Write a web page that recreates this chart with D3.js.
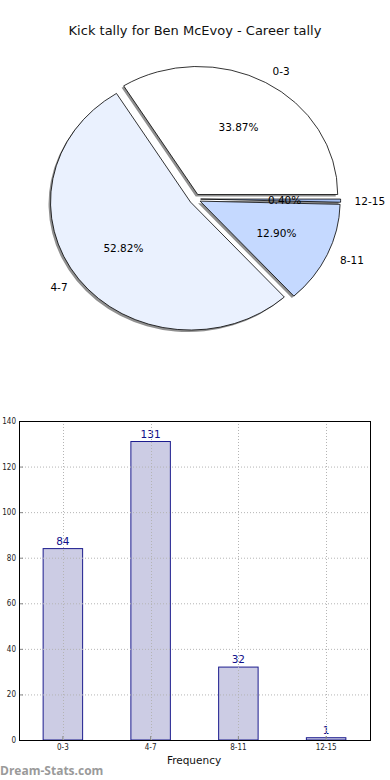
<!DOCTYPE html>
<html>
<head>
<meta charset="utf-8">
<script src="https://cdn.jsdelivr.net/npm/d3@7"></script>
<style>
  body { margin: 0; background: #fff; }
  svg { display: block; font-family: "DejaVu Sans", sans-serif; }
</style>
</head>
<body>
<script>
const categories = ["0-3", "4-7", "8-11", "12-15"];
const counts = [84, 131, 32, 1];
const pieColors = ["#ffffff", "#eaf1fe", "#c5d9ff", "#a3bdf0"];
const yTicks = [0, 20, 40, 60, 80, 100, 120, 140];

const W = 390, H = 780;
const svg = d3.select("body").append("svg")
  .attr("width", W)
  .attr("height", H);

// title
svg.append("text")
  .attr("x", 195)
  .attr("y", 35)
  .attr("text-anchor", "middle")
  .attr("font-size", "13px")
  .attr("fill", "#111")
  .text("Kick tally for Ben McEvoy - Career tally");

// ---- pie (matplotlib style, ellipse, exploded, shadowed)
const cx = 195, cy = 199, rx = 140, ry = 128;
const explode = 0.04;
const total = d3.sum(counts);

const pie = d3.pie().sort(null)
  .startAngle(Math.PI / 2)
  .endAngle(Math.PI / 2 - 2 * Math.PI);
const arcs = pie(counts);
const unitArc = d3.arc().innerRadius(0).outerRadius(1);

// point on unit circle for a d3 angle
const pt = (a, r) => [Math.sin(a) * r, -Math.cos(a) * r];

arcs.forEach(d => {
  d.mid = (d.startAngle + d.endAngle) / 2;
  const off = pt(d.mid, explode);
  d.ox = cx + off[0] * rx;
  d.oy = cy + off[1] * ry;
});

const pieG = svg.append("g");

// shadows first
pieG.selectAll("path.shadow")
  .data(arcs)
  .enter()
  .append("path")
  .attr("class", "shadow")
  .attr("d", unitArc)
  .attr("transform", d => `translate(${d.ox - 2},${d.oy + 2}) scale(${rx},${ry})`)
  .attr("fill", "#909090");

pieG.selectAll("path.wedge")
  .data(arcs)
  .enter()
  .append("path")
  .attr("class", "wedge")
  .attr("d", unitArc)
  .attr("transform", d => `translate(${d.ox},${d.oy}) scale(${rx},${ry})`)
  .attr("fill", (d, i) => pieColors[i])
  .attr("stroke", "#000")
  .attr("stroke-width", 0.8)
  .attr("vector-effect", "non-scaling-stroke");

// category labels
pieG.selectAll("text.cat")
  .data(arcs)
  .enter()
  .append("text")
  .attr("class", "cat")
  .attr("x", d => d.ox + pt(d.mid, 1.1)[0] * rx)
  .attr("y", d => d.oy + pt(d.mid, 1.1)[1] * ry)
  .attr("dy", "0.35em")
  .attr("text-anchor", d => Math.sin(d.mid) > 0 ? "start" : "end")
  .attr("font-size", "10.5px")
  .attr("fill", "#000")
  .text((d, i) => categories[i]);

// percent labels
pieG.selectAll("text.pct")
  .data(arcs)
  .enter()
  .append("text")
  .attr("class", "pct")
  .attr("x", d => d.ox + pt(d.mid, 0.6)[0] * rx)
  .attr("y", d => d.oy + pt(d.mid, 0.6)[1] * ry)
  .attr("dy", "0.35em")
  .attr("text-anchor", "middle")
  .attr("font-size", "10.5px")
  .attr("fill", "#000")
  .text(d => (d.value / total * 100).toFixed(2) + "%");

// ---- bar chart
const x0 = 19, x1 = 370, y0 = 740, y1 = 421;

const x = d3.scaleBand()
  .domain(categories)
  .range([x0, x1])
  .paddingInner(0.55)
  .paddingOuter(0.275);

const y = d3.scaleLinear()
  .domain([0, 140])
  .range([y0, y1]);

const bars = svg.append("g");

bars.selectAll("rect.bar")
  .data(counts)
  .enter()
  .append("rect")
  .attr("class", "bar")
  .attr("x", (d, i) => x(categories[i]))
  .attr("y", d => y(d))
  .attr("width", x.bandwidth())
  .attr("height", d => y0 - y(d))
  .attr("fill", "#ccccE4")
  .attr("stroke", "#1c1c8e")
  .attr("stroke-width", 1);

// grid (drawn over the bars)
const grid = svg.append("g")
  .attr("stroke", "#b4b4b4")
  .attr("stroke-width", 1)
  .attr("stroke-dasharray", "1,2");

grid.selectAll("line.h")
  .data(yTicks)
  .enter()
  .append("line")
  .attr("x1", x0).attr("x2", x1)
  .attr("y1", d => y(d) + 0.5).attr("y2", d => y(d) + 0.5);

grid.selectAll("line.v")
  .data(categories)
  .enter()
  .append("line")
  .attr("x1", d => Math.round(x(d) + x.bandwidth() / 2) + 0.5)
  .attr("x2", d => Math.round(x(d) + x.bandwidth() / 2) + 0.5)
  .attr("y1", y1).attr("y2", y0);

// value labels
bars.selectAll("text.val")
  .data(counts)
  .enter()
  .append("text")
  .attr("class", "val")
  .attr("x", (d, i) => x(categories[i]) + x.bandwidth() / 2)
  .attr("y", d => y(d) - 4)
  .attr("text-anchor", "middle")
  .attr("font-size", "10.5px")
  .attr("fill", "#10108a")
  .text(d => d);

// axes
const yAxis = svg.append("g")
  .attr("transform", `translate(${x0},0)`)
  .call(d3.axisLeft(y).tickValues(yTicks).tickSizeInner(-4).tickSizeOuter(0).tickPadding(3));
const xAxis = svg.append("g")
  .attr("transform", `translate(0,${y0})`)
  .call(d3.axisBottom(x).tickSizeInner(-4).tickSizeOuter(0).tickPadding(4));

[yAxis, xAxis].forEach(g => {
  g.select(".domain").remove();
  g.selectAll(".tick line").attr("stroke", "#888");
  g.selectAll("text")
    .attr("font-family", "DejaVu Sans Condensed, DejaVu Sans, sans-serif")
    .attr("font-size", "8px")
    .attr("fill", "#222");
});

// frame
svg.append("rect")
  .attr("x", x0 + 0.5)
  .attr("y", y1 + 0.5)
  .attr("width", x1 - x0)
  .attr("height", y0 - y1)
  .attr("fill", "none")
  .attr("stroke", "#000")
  .attr("stroke-width", 1);

svg.append("text")
  .attr("x", 194)
  .attr("y", 764)
  .attr("text-anchor", "middle")
  .attr("font-size", "10.5px")
  .attr("fill", "#111")
  .text("Frequency");

// watermark
svg.append("text")
  .attr("x", 0)
  .attr("y", 775)
  .attr("font-family", "Open Sans, sans-serif")
  .attr("font-weight", "bold")
  .attr("font-size", "12px")
  .attr("fill", "#9a9a9a")
  .text("Dream-Stats.com");
</script>
</body>
</html>
